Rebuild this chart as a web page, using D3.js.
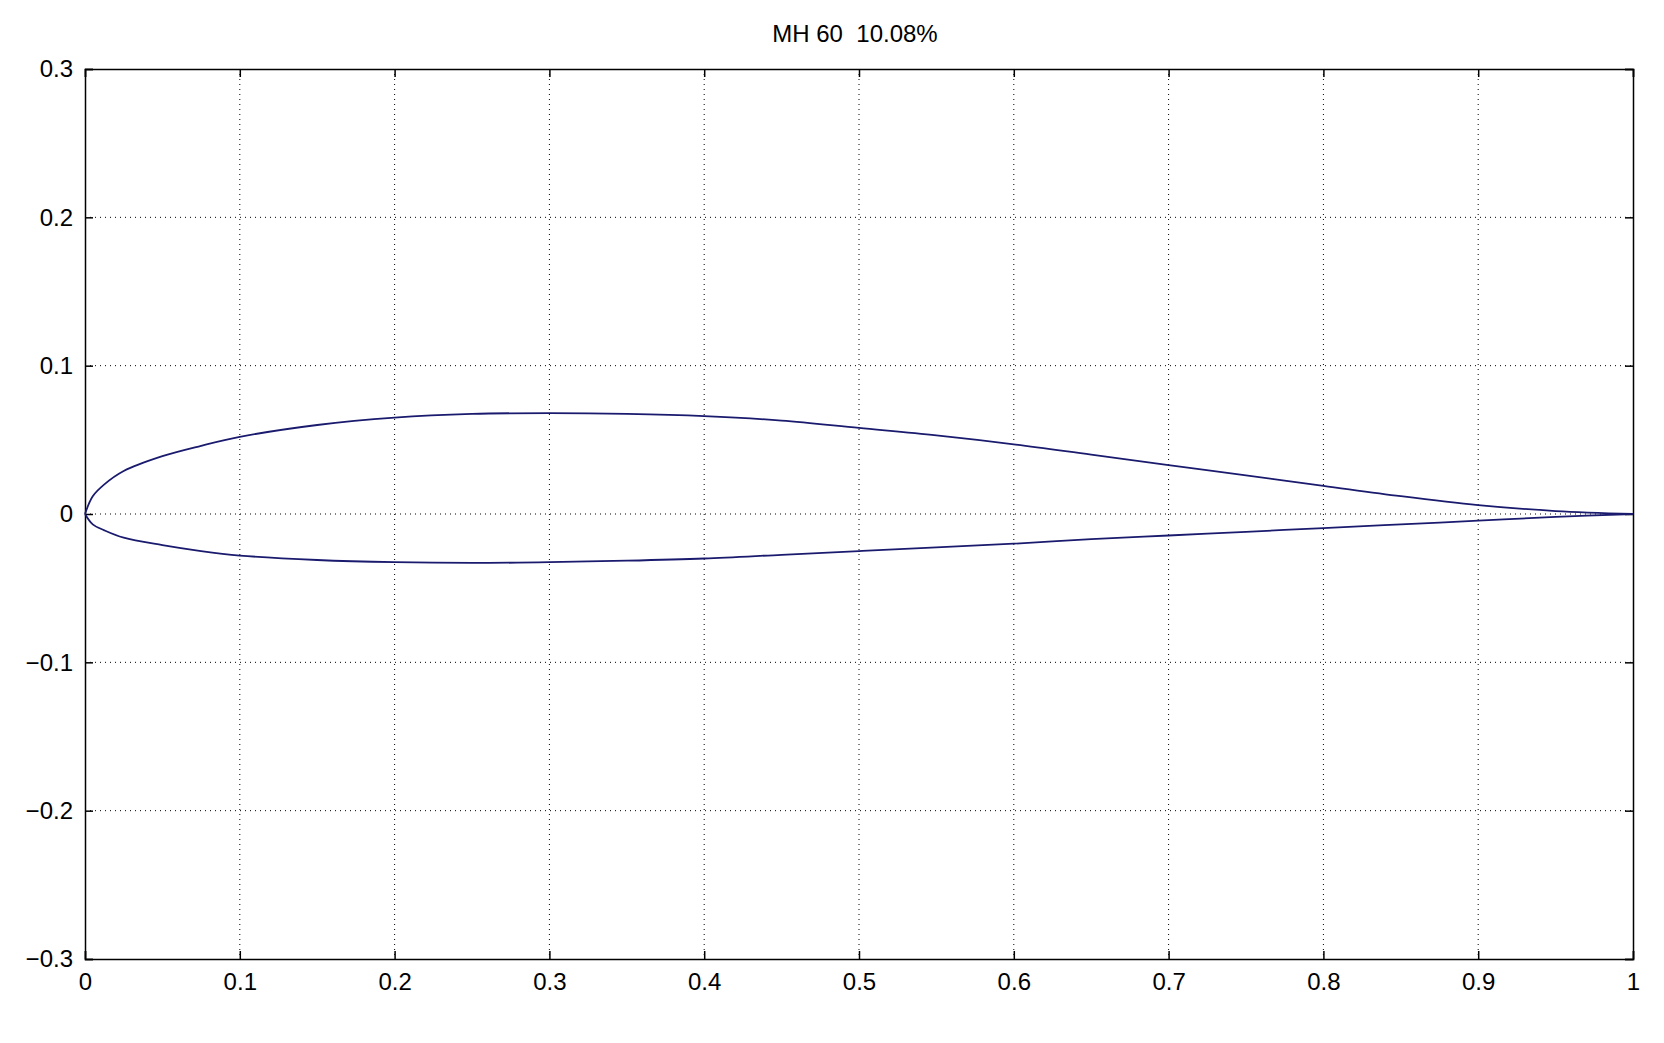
<!DOCTYPE html>
<html><head><meta charset="utf-8">
<script src="https://cdn.jsdelivr.net/npm/d3@7"></script>
<style>body{margin:0;background:#fff}</style></head>
<body><svg id="c" width="1664" height="1043"></svg>
<script>
// upper surface, leading edge to trailing edge
const upperX = [0, 0.005, 0.0125, 0.025, 0.05, 0.075, 0.1, 0.15, 0.2, 0.25, 0.3, 0.35, 0.4, 0.45, 0.5, 0.55, 0.6, 0.65, 0.7, 0.75, 0.8, 0.85, 0.9, 0.95, 1];
const upperY = [0, 0.012, 0.02, 0.029, 0.039, 0.046, 0.052, 0.060, 0.065, 0.0675, 0.068, 0.0675, 0.066, 0.063, 0.058, 0.053, 0.047, 0.040, 0.033, 0.026, 0.019, 0.012, 0.006, 0.002, 0];
const lowerX = [0, 0.005, 0.0125, 0.025, 0.05, 0.075, 0.1, 0.15, 0.2, 0.25, 0.3, 0.35, 0.4, 0.45, 0.5, 0.55, 0.6, 0.65, 0.7, 0.75, 0.8, 0.85, 0.9, 0.95, 1];
const lowerY = [0, -0.007, -0.011, -0.016, -0.021, -0.025, -0.028, -0.031, -0.0325, -0.033, -0.0325, -0.0315, -0.030, -0.0275, -0.025, -0.0225, -0.020, -0.017, -0.0145, -0.012, -0.0095, -0.007, -0.0045, -0.002, 0];
const xTicks = [0, 0.1, 0.2, 0.3, 0.4, 0.5, 0.6, 0.7, 0.8, 0.9, 1];
const yTicks = [-0.3, -0.2, -0.1, 0, 0.1, 0.2, 0.3];

const svg = d3.select("#c");
const m = {l: 85, r: 1633, t: 69, b: 959};
const x = d3.scaleLinear().domain([0, 1]).range([m.l, m.r]);
const y = d3.scaleLinear().domain([-0.3, 0.3]).range([m.b, m.t]);

// grid
svg.append("g").selectAll("line").data(xTicks.slice(1, -1)).join("line")
  .attr("x1", d => x(d)).attr("x2", d => x(d)).attr("y1", m.t).attr("y2", m.b)
  .attr("stroke", "#000").attr("stroke-dasharray", "1,4");
svg.append("g").selectAll("line").data(yTicks.slice(1, -1)).join("line")
  .attr("y1", d => y(d)).attr("y2", d => y(d)).attr("x1", m.l).attr("x2", m.r)
  .attr("stroke", "#000").attr("stroke-dasharray", "1,4");

const font = "Liberation Sans, Arial, sans-serif";
const ax = svg.append("g").attr("transform", `translate(0,${m.b})`)
  .call(d3.axisBottom(x).tickValues(xTicks).tickFormat(d => d === 1 ? "1" : d === 0 ? "0" : d3.format(".1f")(d)).tickSize(-8).tickPadding(14));
const ay = svg.append("g").attr("transform", `translate(${m.l},0)`)
  .call(d3.axisLeft(y).tickValues(yTicks).tickFormat(d => d === 0 ? "0" : d < 0 ? "\u2212" + d3.format(".1f")(-d) : d3.format(".1f")(d)).tickSize(-8).tickPadding(12));
const ax2 = svg.append("g").attr("transform", `translate(0,${m.t})`)
  .call(d3.axisTop(x).tickValues(xTicks).tickFormat("").tickSize(-8));
const ay2 = svg.append("g").attr("transform", `translate(${m.r},0)`)
  .call(d3.axisRight(y).tickValues(yTicks).tickFormat("").tickSize(-8));
[ax, ay, ax2, ay2].forEach(g => {
  g.selectAll("path,line").attr("stroke", "#000").attr("stroke-width", 1.5);
  g.selectAll("text").attr("fill", "#000").style("font", `24px ${font}`);
});

const line = d3.line().x(d => x(d[0])).y(d => y(d[1])).curve(d3.curveCatmullRom);
svg.append("path").datum(upperX.map((v, i) => [v, upperY[i]]))
  .attr("d", line).attr("fill", "none").attr("stroke", "#1a1a6e").attr("stroke-width", 1.8);
svg.append("path").datum(lowerX.map((v, i) => [v, lowerY[i]]))
  .attr("d", line).attr("fill", "none").attr("stroke", "#1a1a6e").attr("stroke-width", 1.8);

svg.append("text").attr("x", 855).attr("y", 42).attr("text-anchor", "middle")
  .style("font", `24px ${font}`).attr("xml:space", "preserve").text("MH 60  10.08%");
</script></body></html>
